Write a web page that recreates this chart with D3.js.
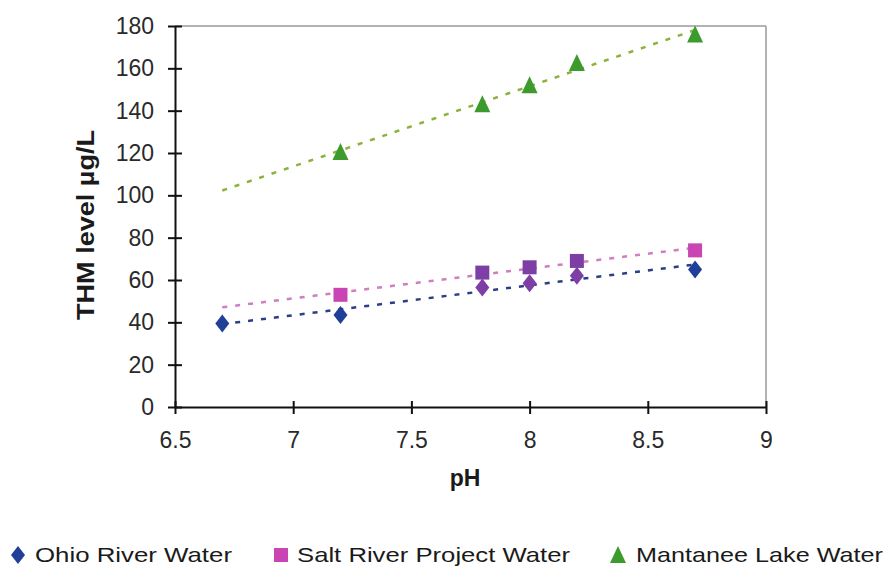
<!DOCTYPE html>
<html>
<head>
<meta charset="utf-8">
<script src="https://cdn.jsdelivr.net/npm/d3@7"></script>
<style>
  html, body { margin: 0; padding: 0; background: #fff; }
  svg { display: block; font-family: "Liberation Sans", Arial, sans-serif; }
</style>
</head>
<body>
<svg id="chart" width="889" height="568"></svg>
<script>
// THM formation versus pH for three source waters
const seriesNames = ["Ohio River Water", "Salt River Project Water", "Mantanee Lake Water"];
const ohioPH = [6.7, 7.2, 7.8, 8.0, 8.2, 8.7];
const ohioTHM = [39.5, 43.5, 56.5, 58.5, 62, 65];
const saltPH = [7.2, 7.8, 8.0, 8.2, 8.7];
const saltTHM = [53, 63.5, 66, 69, 74];
const mantPH = [7.2, 7.8, 8.0, 8.2, 8.7];
const mantTHM = [120.5, 143, 152, 162.5, 176];
const xTicks = [6.5, 7, 7.5, 8, 8.5, 9];
const yTicks = [0, 20, 40, 60, 80, 100, 120, 140, 160, 180];
// pH values where the two lower series' markers are shown in a shared purple
const sharedPH = [7.8, 8.0, 8.2];

const svg = d3.select("#chart");
const plot = { left: 175, right: 766, top: 26, bottom: 407 };

const x = d3.scaleLinear().domain([6.5, 9]).range([plot.left, plot.right]);
const y = d3.scaleLinear().domain([0, 180]).range([plot.bottom, plot.top]);

const series = [
  { name: seriesNames[0], ph: ohioPH, thm: ohioTHM, color: "#1f3f98", trend: "#2c3f86", shape: "diamond" },
  { name: seriesNames[1], ph: saltPH, thm: saltTHM, color: "#c845b3", trend: "#cf7ec0", shape: "square" },
  { name: seriesNames[2], ph: mantPH, thm: mantTHM, color: "#3d9a2c", trend: "#8bb23a", shape: "triangle" }
];
const sharedColor = "#7d3fa6";

// plot frame: grey top and right edges
svg.append("line").attr("x1", plot.left).attr("x2", plot.right)
  .attr("y1", plot.top).attr("y2", plot.top)
  .attr("stroke", "#9a9a9a").attr("stroke-width", 1.5);
svg.append("line").attr("x1", plot.right).attr("x2", plot.right)
  .attr("y1", plot.top).attr("y2", plot.bottom)
  .attr("stroke", "#9a9a9a").attr("stroke-width", 1.5);

// axes
const yAxis = d3.axisLeft(y).tickValues(yTicks).tickSizeInner(7).tickSizeOuter(0).tickPadding(14);
const xAxis = d3.axisBottom(x).tickValues(xTicks).tickSizeInner(7).tickSizeOuter(0).tickPadding(18)
  .tickFormat(d => String(d));

const gy = svg.append("g").attr("transform", `translate(${plot.left},0)`).call(yAxis);
const gx = svg.append("g").attr("transform", `translate(0,${plot.bottom})`).call(xAxis);

[gy, gx].forEach(g => {
  g.select(".domain").attr("stroke", "#111").attr("stroke-width", 2);
  g.selectAll(".tick line").attr("stroke", "#111").attr("stroke-width", 2);
  g.selectAll(".tick text").attr("fill", "#2a2a2a").attr("font-size", 23)
    .attr("font-family", "'Liberation Sans', Arial, sans-serif");
});
// ticks cross the axis line
gy.selectAll(".tick line").attr("x1", 7).attr("x2", -7);
gx.selectAll(".tick line").attr("y1", -6).attr("y2", 7);
gy.selectAll(".tick text").attr("x", -21);

// linear least-squares trend lines, drawn over the full sampled pH span
const trendFrom = d3.min(ohioPH), trendTo = d3.max(ohioPH);
function fit(xs, ys) {
  const mx = d3.mean(xs), my = d3.mean(ys);
  const sxy = d3.sum(xs, (v, i) => (v - mx) * (ys[i] - my));
  const sxx = d3.sum(xs, v => (v - mx) * (v - mx));
  const b = sxy / sxx;
  return v => my + b * (v - mx);
}
const line = d3.line().x(d => x(d[0])).y(d => y(d[1]));
series.forEach(s => {
  const f = fit(s.ph, s.thm);
  svg.append("path")
    .datum([[trendFrom, f(trendFrom)], [trendTo, f(trendTo)]])
    .attr("d", line)
    .attr("fill", "none")
    .attr("stroke", s.trend)
    .attr("stroke-width", 2.5)
    .attr("stroke-dasharray", "5,8");
});

// marker shapes
function marker(g, shape, cx, cy, color) {
  if (shape === "diamond") {
    g.append("path").attr("d", `M${cx},${cy - 9}L${cx + 7},${cy}L${cx},${cy + 9}L${cx - 7},${cy}Z`).attr("fill", color);
  } else if (shape === "square") {
    g.append("rect").attr("x", cx - 7).attr("y", cy - 7).attr("width", 14).attr("height", 14).attr("fill", color);
  } else {
    g.append("path").attr("d", `M${cx},${cy - 9}L${cx + 8},${cy + 8}L${cx - 8},${cy + 8}Z`).attr("fill", color);
  }
}

const marks = svg.append("g");
series.forEach((s, si) => {
  s.ph.forEach((p, i) => {
    const c = (si < 2 && sharedPH.includes(p)) ? sharedColor : s.color;
    marker(marks, s.shape, x(p), y(s.thm[i]), c);
  });
});

// axis titles
svg.append("text")
  .attr("transform", "translate(94,225) rotate(-90)")
  .attr("text-anchor", "middle")
  .attr("font-size", 24).attr("font-weight", "bold").attr("fill", "#1a1a1a")
  .attr("textLength", 190).attr("lengthAdjust", "spacingAndGlyphs")
  .text("THM level  \u00b5g/L");

svg.append("text")
  .attr("x", 465).attr("y", 486)
  .attr("text-anchor", "middle")
  .attr("font-size", 23).attr("font-weight", "bold").attr("fill", "#1a1a1a")
  .text("pH");

// legend
const legendPos = [
  { mx: 18, tx: 35, tw: 197 },
  { mx: 281, tx: 297, tw: 273 },
  { mx: 618, tx: 636, tw: 247 }
];
const legend = svg.append("g");
series.forEach((s, i) => {
  const p = legendPos[i];
  marker(legend, s.shape, p.mx, 555, s.color);
  legend.append("text")
    .attr("x", p.tx).attr("y", 562)
    .attr("font-size", 21).attr("fill", "#1a1a1a")
    .attr("textLength", p.tw).attr("lengthAdjust", "spacingAndGlyphs")
    .text(s.name);
});
</script>
</body>
</html>
